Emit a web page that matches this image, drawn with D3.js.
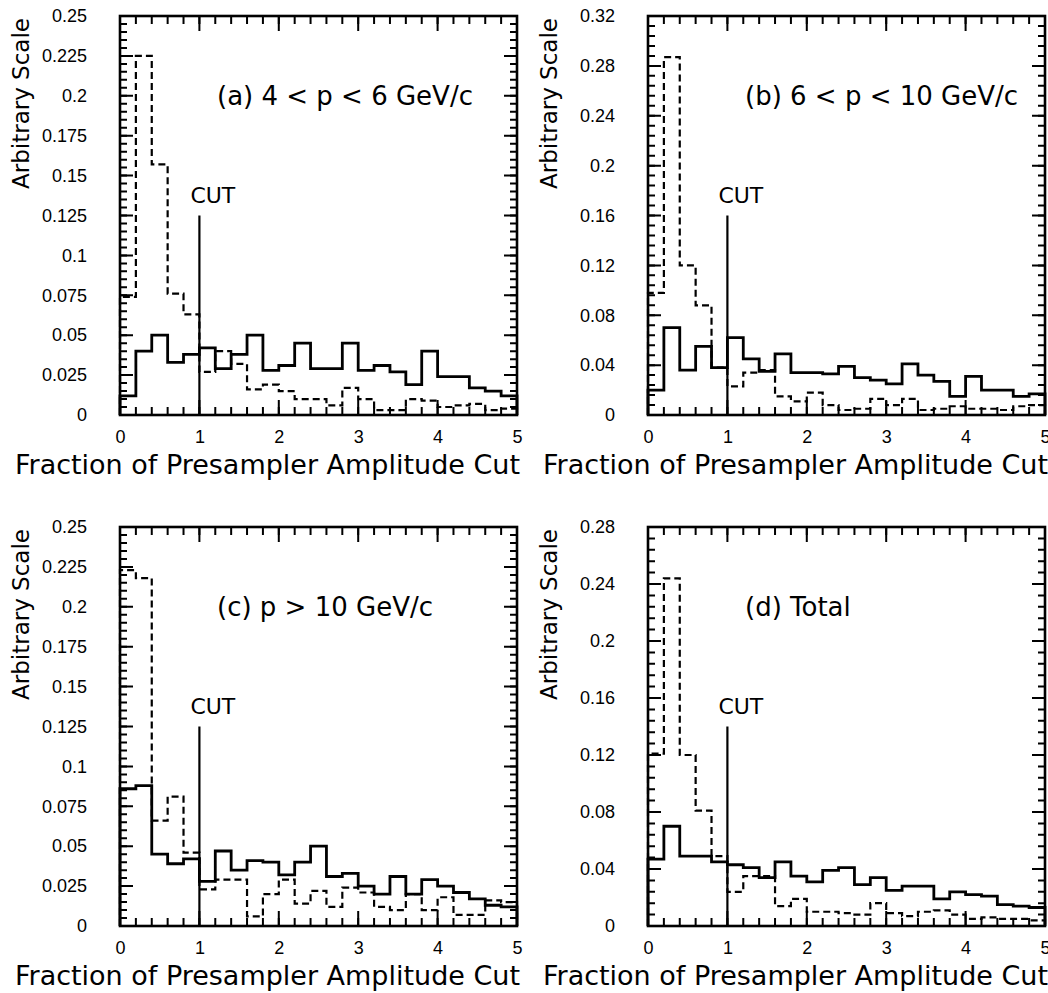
<!DOCTYPE html>
<html>
<head>
<meta charset="utf-8">
<script src="https://cdn.jsdelivr.net/npm/d3@7/dist/d3.min.js"></script>
<style>
  body { margin: 0; background: #fff; }
  #chart svg { display: block; }
</style>
</head>
<body>
<div id="chart"></div>
<script>
// bins of 0.2 from 0 to 5 (25 bins)
const binWidth = 0.2;
const xTicks = [0, 1, 2, 3, 4, 5];

const yTicksLow = [0, 0.025, 0.05, 0.075, 0.1, 0.125, 0.15, 0.175, 0.2, 0.225, 0.25];
const yTicksB = [0, 0.04, 0.08, 0.12, 0.16, 0.2, 0.24, 0.28, 0.32];
const yTicksD = [0, 0.04, 0.08, 0.12, 0.16, 0.2, 0.24, 0.28];

const solidA = [0.012, 0.040, 0.050, 0.033, 0.038, 0.042, 0.029, 0.038, 0.050, 0.028,
                0.031, 0.045, 0.029, 0.029, 0.045, 0.028, 0.031, 0.027, 0.019, 0.040,
                0.024, 0.024, 0.017, 0.015, 0.012];
const dashedA = [0.074, 0.225, 0.157, 0.076, 0.063, 0.027, 0.040, 0.032, 0.016, 0.019,
                 0.015, 0.010, 0.010, 0.006, 0.017, 0.010, 0.003, 0.003, 0.010, 0.009,
                 0.005, 0.006, 0.007, 0.003, 0.004];

const solidB = [0.020, 0.070, 0.036, 0.055, 0.038, 0.062, 0.045, 0.035, 0.049, 0.034,
                0.034, 0.033, 0.039, 0.030, 0.028, 0.025, 0.041, 0.032, 0.027, 0.015,
                0.031, 0.020, 0.020, 0.015, 0.017];
const dashedB = [0.098, 0.287, 0.120, 0.088, 0.038, 0.023, 0.034, 0.036, 0.015, 0.011,
                 0.018, 0.008, 0.004, 0.005, 0.013, 0.008, 0.013, 0.004, 0.005, 0.007,
                 0.005, 0.005, 0.004, 0.007, 0.008];

const solidC = [0.086, 0.088, 0.045, 0.039, 0.042, 0.028, 0.047, 0.035, 0.041, 0.040,
                0.032, 0.040, 0.050, 0.031, 0.033, 0.025, 0.020, 0.031, 0.020, 0.029,
                0.025, 0.021, 0.017, 0.013, 0.012];
const dashedC = [0.223, 0.218, 0.066, 0.081, 0.046, 0.023, 0.029, 0.029, 0.006, 0.020,
                 0.029, 0.014, 0.022, 0.012, 0.024, 0.021, 0.012, 0.010, 0.020, 0.010,
                 0.018, 0.007, 0.007, 0.016, 0.015];

const solidD = [0.047, 0.070, 0.049, 0.049, 0.045, 0.043, 0.041, 0.034, 0.045, 0.035,
                0.031, 0.039, 0.041, 0.029, 0.034, 0.025, 0.028, 0.028, 0.019, 0.024,
                0.022, 0.021, 0.015, 0.014, 0.013];
const dashedD = [0.121, 0.244, 0.120, 0.081, 0.049, 0.024, 0.035, 0.035, 0.014, 0.019,
                 0.010, 0.010, 0.009, 0.008, 0.016, 0.009, 0.007, 0.010, 0.011, 0.008,
                 0.005, 0.006, 0.005, 0.005, 0.004];

const cutValue = 1;

const panels = [
  { label: '(a) 4 < p < 6 GeV/c', solid: solidA, dashed: dashedA, yMax: 0.25, yTicks: yTicksLow, cutTop: 0.125, left: 120, top: 16 },
  { label: '(b) 6 < p < 10 GeV/c', solid: solidB, dashed: dashedB, yMax: 0.32, yTicks: yTicksB, cutTop: 0.16, left: 648, top: 16 },
  { label: '(c) p > 10 GeV/c', solid: solidC, dashed: dashedC, yMax: 0.25, yTicks: yTicksLow, cutTop: 0.125, left: 120, top: 527 },
  { label: '(d) Total', solid: solidD, dashed: dashedD, yMax: 0.28, yTicks: yTicksD, cutTop: 0.14, left: 648, top: 527 }
];

const width = 1048;
const height = 993;
const plotW = 397;
const plotH = 399;
const titleFont = 'DejaVu Sans, Verdana, sans-serif';
const tickFont = 'Liberation Sans, Arial, Helvetica, sans-serif';

const svg = d3.select('#chart').append('svg')
  .attr('width', width)
  .attr('height', height);

const fmt = v => String(+v.toFixed(3));

// inward tick marks on one side of the frame, drawn as one path
const tickMarks = (g, vals, scale, side, len) => {
  const segs = vals.map(d => {
    const s = scale(d);
    if (side === 'bottom') return `M${s},${plotH}V${plotH - len}`;
    if (side === 'top') return `M${s},0V${len}`;
    if (side === 'left') return `M0,${s}H${len}`;
    return `M${plotW},${s}H${plotW - len}`;
  });
  g.append('path')
    .attr('d', segs.join(''))
    .attr('fill', 'none')
    .attr('stroke', '#000')
    .attr('stroke-width', 2);
};

panels.forEach(p => {
  const g = svg.append('g')
    .attr('transform', `translate(${p.left},${p.top})`);

  const xScale = d3.scaleLinear().domain([0, 5]).range([0, plotW]);
  const yScale = d3.scaleLinear().domain([0, p.yMax]).range([plotH, 0]);

  const step = p.yTicks[1] - p.yTicks[0];
  const yMinor = d3.range(0, Math.round(p.yMax / (step / 5)) + 1).map(i => i * step / 5);
  const xMinor = d3.range(0, 26).map(i => i * binWidth);

  tickMarks(g, xMinor, xScale, 'bottom', 8);
  tickMarks(g, xMinor, xScale, 'top', 8);
  tickMarks(g, yMinor, yScale, 'left', 7);
  tickMarks(g, yMinor, yScale, 'right', 7);
  tickMarks(g, xTicks, xScale, 'bottom', 15);
  tickMarks(g, xTicks, xScale, 'top', 15);
  tickMarks(g, p.yTicks, yScale, 'left', 13);
  tickMarks(g, p.yTicks, yScale, 'right', 13);

  // tick labels
  const xAxisG = g.append('g')
    .attr('transform', `translate(0,${plotH})`)
    .call(d3.axisBottom(xScale).tickValues(xTicks).tickSize(0).tickPadding(15).tickFormat(d3.format('d')));
  const yAxisG = g.append('g')
    .call(d3.axisLeft(yScale).tickValues(p.yTicks).tickSize(0).tickPadding(33).tickFormat(fmt));
  [xAxisG, yAxisG].forEach(a => {
    a.select('.domain').remove();
    a.attr('font-family', tickFont).attr('font-size', 18);
    a.selectAll('.tick text').attr('fill', '#000');
  });

  // histograms
  const toPoints = vals => {
    const pts = [{ x: 0, v: 0 }];
    vals.forEach((v, i) => pts.push({ x: i * binWidth, v: v }));
    pts.push({ x: vals.length * binWidth, v: vals[vals.length - 1] });
    pts.push({ x: vals.length * binWidth, v: 0 });
    return pts;
  };
  const line = d3.line()
    .x(d => xScale(d.x))
    .y(d => yScale(d.v))
    .curve(d3.curveStepAfter);

  g.append('path')
    .attr('d', line(toPoints(p.dashed)))
    .attr('fill', 'none')
    .attr('stroke', '#000')
    .attr('stroke-width', 2.2)
    .attr('stroke-dasharray', '7,4');

  g.append('path')
    .attr('d', line(toPoints(p.solid)))
    .attr('fill', 'none')
    .attr('stroke', '#000')
    .attr('stroke-width', 2.8);

  // cut line
  g.append('line')
    .attr('x1', xScale(cutValue)).attr('x2', xScale(cutValue))
    .attr('y1', yScale(0)).attr('y2', yScale(p.cutTop))
    .attr('stroke', '#000')
    .attr('stroke-width', 2.2);

  g.append('text')
    .attr('x', xScale(cutValue) - 9)
    .attr('y', yScale(p.cutTop) - 13)
    .attr('font-family', titleFont)
    .attr('font-size', 22)
    .text('CUT');

  // frame
  g.append('rect')
    .attr('width', plotW)
    .attr('height', plotH)
    .attr('fill', 'none')
    .attr('stroke', '#000')
    .attr('stroke-width', 2.6);

  // panel label
  g.append('text')
    .attr('x', 97)
    .attr('y', 89)
    .attr('font-family', titleFont)
    .attr('font-size', 26)
    .text(p.label);

  // axis titles
  g.append('text')
    .attr('x', plotW + 3)
    .attr('y', plotH + 59)
    .attr('text-anchor', 'end')
    .attr('font-family', titleFont)
    .attr('font-size', 26)
    .attr('textLength', 505)
    .attr('lengthAdjust', 'spacingAndGlyphs')
    .text('Fraction of Presampler Amplitude Cut');

  g.append('text')
    .attr('transform', `translate(-91,2) rotate(-90)`)
    .attr('text-anchor', 'end')
    .attr('font-family', titleFont)
    .attr('font-size', 23)
    .text('Arbitrary Scale');
});
</script>
</body>
</html>
